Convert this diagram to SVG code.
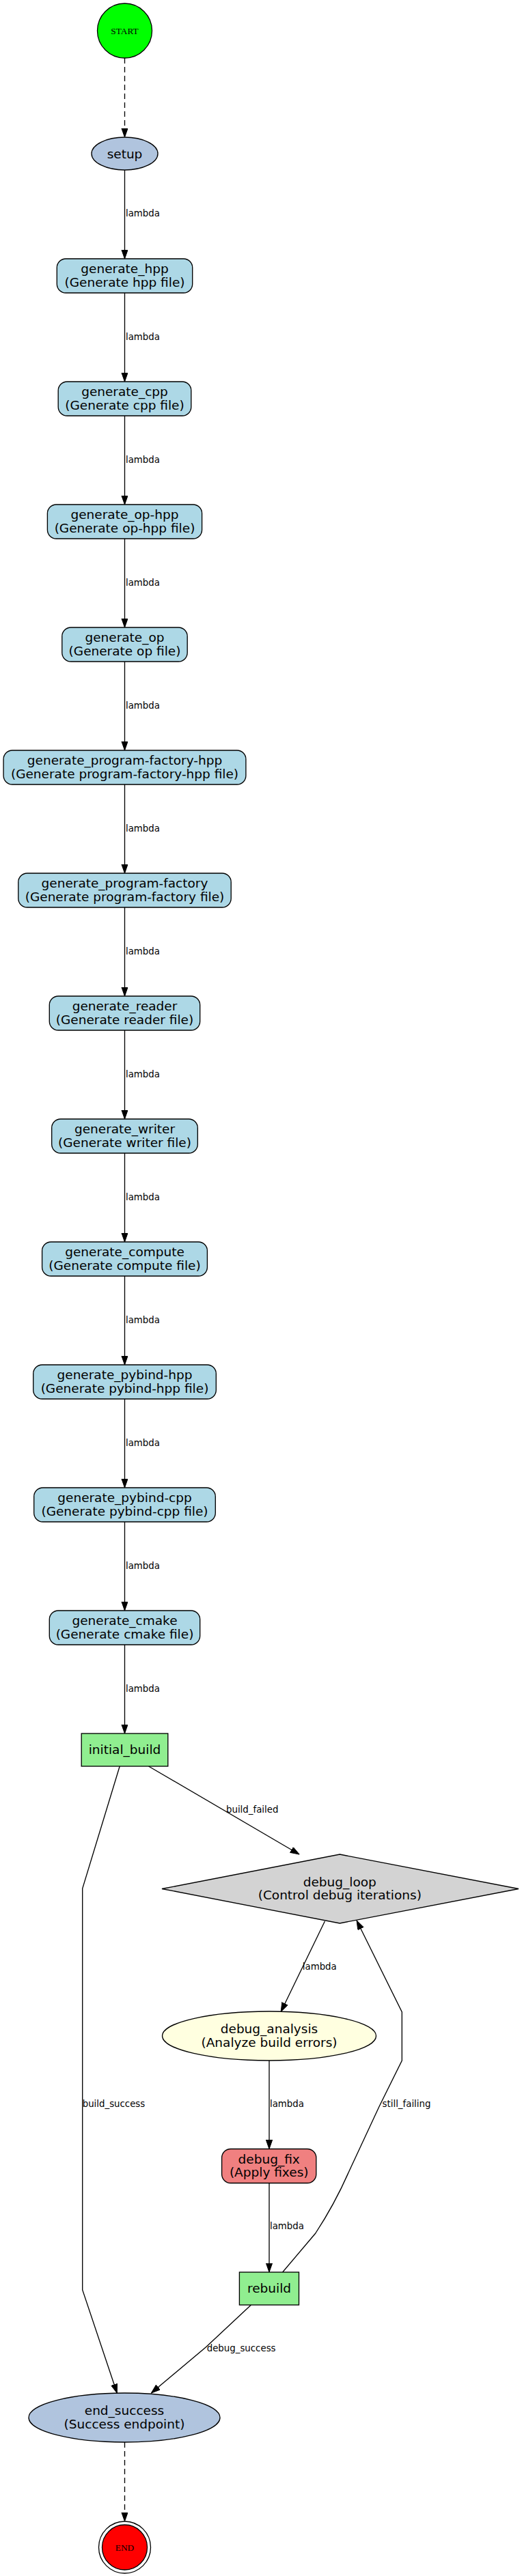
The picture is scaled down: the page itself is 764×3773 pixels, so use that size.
<svg xmlns="http://www.w3.org/2000/svg" width="764" height="3773" viewBox="0 0 764 3773">
<style>
.bg{fill:#fff}
.shape{stroke:#000;stroke-width:1.33}
.gen{fill:#add8e6}
.green{fill:#90ee90}
text{font-family:"DejaVu Sans","Liberation Sans",sans-serif;fill:#000}
.n{font-size:18.5px;text-anchor:middle}
.e{font-size:13.33px;text-anchor:start}
.t{font-family:"Liberation Serif","DejaVu Serif",serif;font-size:13.33px;text-anchor:middle}
.edges path{fill:none;stroke:#000;stroke-width:1.33;marker-end:url(#arr)}
.edges path.dash{stroke-dasharray:8,5}
</style>
<defs>
<marker id="arr" markerUnits="userSpaceOnUse" markerWidth="14" markerHeight="10" refX="13.33" refY="4.67" orient="auto">
<path d="M0,0 L13.33,4.67 L0,9.33 Z" fill="#000" stroke="#000" stroke-width="1"/>
</marker>
</defs>
<rect class="bg" x="0" y="0" width="764" height="3773"/>

<g id="edges" class="edges">
<path class="dash" d="M182.5,85 L182.5,201"/>
<path d="M182.5,249 L182.5,379"/>
<path d="M182.5,429 L182.5,559"/>
<path d="M182.5,609 L182.5,739"/>
<path d="M182.5,789 L182.5,919"/>
<path d="M182.5,969 L182.5,1099"/>
<path d="M182.5,1149 L182.5,1279"/>
<path d="M182.5,1329 L182.5,1459"/>
<path d="M182.5,1509 L182.5,1639"/>
<path d="M182.5,1689 L182.5,1819"/>
<path d="M182.5,1869 L182.5,1999"/>
<path d="M182.5,2049 L182.5,2179"/>
<path d="M182.5,2229 L182.5,2359"/>
<path d="M182.5,2409 L182.5,2539"/>
<path d="M217.5,2587 L438,2716"/>
<path d="M175.2,2587 L120.7,2766 L120.7,3354 L171.3,3505"/>
<path d="M475.4,2814 L411.2,2946.5"/>
<path d="M394,3018 L394,3147.5"/>
<path d="M394,3197.5 L394,3328"/>
<path d="M413.6,3328 L461.8,3271 Q490,3228 511,3180 L554.7,3086 L588.3,3018 L588.3,2947 L522.1,2813"/>
<path d="M367.4,3376 L301.7,3437.6 L221.4,3505"/>
<path class="dash" d="M182.5,3577 L182.5,3693"/>
<g id="edge-labels">
<text class="e" x="184" y="317">lambda</text>
<text class="e" x="184" y="497.5">lambda</text>
<text class="e" x="184" y="677.5">lambda</text>
<text class="e" x="184" y="857.5">lambda</text>
<text class="e" x="184" y="1037.5">lambda</text>
<text class="e" x="184" y="1217.5">lambda</text>
<text class="e" x="184" y="1397.5">lambda</text>
<text class="e" x="184" y="1577.5">lambda</text>
<text class="e" x="184" y="1757.5">lambda</text>
<text class="e" x="184" y="1937.5">lambda</text>
<text class="e" x="184" y="2117.5">lambda</text>
<text class="e" x="184" y="2297.5">lambda</text>
<text class="e" x="184" y="2477.5">lambda</text>
<text class="e" x="331" y="2655">build_failed</text>
<text class="e" x="120.7" y="3086">build_success</text>
<text class="e" x="442.8" y="2885">lambda</text>
<text class="e" x="395" y="3086">lambda</text>
<text class="e" x="395" y="3265">lambda</text>
<text class="e" x="559.6" y="3086">still_failing</text>
<text class="e" x="302.7" y="3444">debug_success</text>
</g>
</g>

<g id="START"><circle class="shape" cx="182.5" cy="45" r="40" fill="#00ff00"/><text class="t" x="182.5" y="49.5">START</text></g>
<g id="setup"><ellipse class="shape" cx="182.5" cy="225" rx="48.5" ry="24" fill="#b0c4de"/><text class="n" x="182.5" y="231.5">setup</text></g>

<g id="generate_hpp"><rect class="shape gen" x="83.3" y="379" width="198.4" height="50" rx="13"/><text class="n" x="182.5" y="400">generate_hpp</text><text class="n" x="182.5" y="419.5">(Generate hpp file)</text></g>
<g id="generate_cpp"><rect class="shape gen" x="85.2" y="559" width="194.6" height="50" rx="13"/><text class="n" x="182.5" y="580">generate_cpp</text><text class="n" x="182.5" y="599.5">(Generate cpp file)</text></g>
<g id="generate_op-hpp"><rect class="shape gen" x="69.4" y="739" width="226.2" height="50" rx="13"/><text class="n" x="182.5" y="760">generate_op-hpp</text><text class="n" x="182.5" y="779.5">(Generate op-hpp file)</text></g>
<g id="generate_op"><rect class="shape gen" x="90.8" y="919" width="183.4" height="50" rx="13"/><text class="n" x="182.5" y="940">generate_op</text><text class="n" x="182.5" y="959.5">(Generate op file)</text></g>
<g id="generate_program-factory-hpp"><rect class="shape gen" x="5.1" y="1099" width="354.8" height="50" rx="13"/><text class="n" x="182.5" y="1120">generate_program-factory-hpp</text><text class="n" x="182.5" y="1139.5">(Generate program-factory-hpp file)</text></g>
<g id="generate_program-factory"><rect class="shape gen" x="26.8" y="1279" width="311.4" height="50" rx="13"/><text class="n" x="182.5" y="1300">generate_program-factory</text><text class="n" x="182.5" y="1319.5">(Generate program-factory file)</text></g>
<g id="generate_reader"><rect class="shape gen" x="72.3" y="1459" width="220.4" height="50" rx="13"/><text class="n" x="182.5" y="1480">generate_reader</text><text class="n" x="182.5" y="1499.5">(Generate reader file)</text></g>
<g id="generate_writer"><rect class="shape gen" x="75.7" y="1639" width="213.6" height="50" rx="13"/><text class="n" x="182.5" y="1660">generate_writer</text><text class="n" x="182.5" y="1679.5">(Generate writer file)</text></g>
<g id="generate_compute"><rect class="shape gen" x="61.6" y="1819" width="241.8" height="50" rx="13"/><text class="n" x="182.5" y="1840">generate_compute</text><text class="n" x="182.5" y="1859.5">(Generate compute file)</text></g>
<g id="generate_pybind-hpp"><rect class="shape gen" x="48.7" y="1999" width="267.6" height="50" rx="13"/><text class="n" x="182.5" y="2020">generate_pybind-hpp</text><text class="n" x="182.5" y="2039.5">(Generate pybind-hpp file)</text></g>
<g id="generate_pybind-cpp"><rect class="shape gen" x="49.7" y="2179" width="265.6" height="50" rx="13"/><text class="n" x="182.5" y="2200">generate_pybind-cpp</text><text class="n" x="182.5" y="2219.5">(Generate pybind-cpp file)</text></g>
<g id="generate_cmake"><rect class="shape gen" x="72.3" y="2359" width="220.4" height="50" rx="13"/><text class="n" x="182.5" y="2380">generate_cmake</text><text class="n" x="182.5" y="2399.5">(Generate cmake file)</text></g>

<g id="initial_build"><rect class="shape green" x="119.2" y="2539" width="126.6" height="48"/><text class="n" x="182.5" y="2569">initial_build</text></g>
<g id="debug_loop"><polygon class="shape" points="497.3,2716 759,2766.5 497.3,2817 237,2766.5" fill="#d3d3d3"/><text class="n" x="497.3" y="2762.5">debug_loop</text><text class="n" x="497.3" y="2782">(Control debug iterations)</text></g>
<g id="debug_analysis"><ellipse class="shape" cx="394" cy="2982" rx="156.5" ry="36" fill="#ffffe0"/><text class="n" x="394" y="2978">debug_analysis</text><text class="n" x="394" y="2997.5">(Analyze build errors)</text></g>
<g id="debug_fix"><rect class="shape" x="324.6" y="3147.5" width="138.2" height="50" rx="13" fill="#f08080"/><text class="n" x="393.7" y="3168.5">debug_fix</text><text class="n" x="393.7" y="3188">(Apply fixes)</text></g>
<g id="rebuild"><rect class="shape green" x="350.4" y="3328" width="87.1" height="48"/><text class="n" x="394" y="3358">rebuild</text></g>
<g id="end_success"><ellipse class="shape" cx="182" cy="3541" rx="140" ry="36" fill="#b0c4de"/><text class="n" x="182" y="3537">end_success</text><text class="n" x="182" y="3556.5">(Success endpoint)</text></g>
<g id="END"><circle class="shape" cx="182.5" cy="3731" r="38" fill="none"/><circle class="shape" cx="182.5" cy="3731" r="33" fill="#ff0000"/><text class="t" x="182.5" y="3735.5">END</text></g>
</svg>
